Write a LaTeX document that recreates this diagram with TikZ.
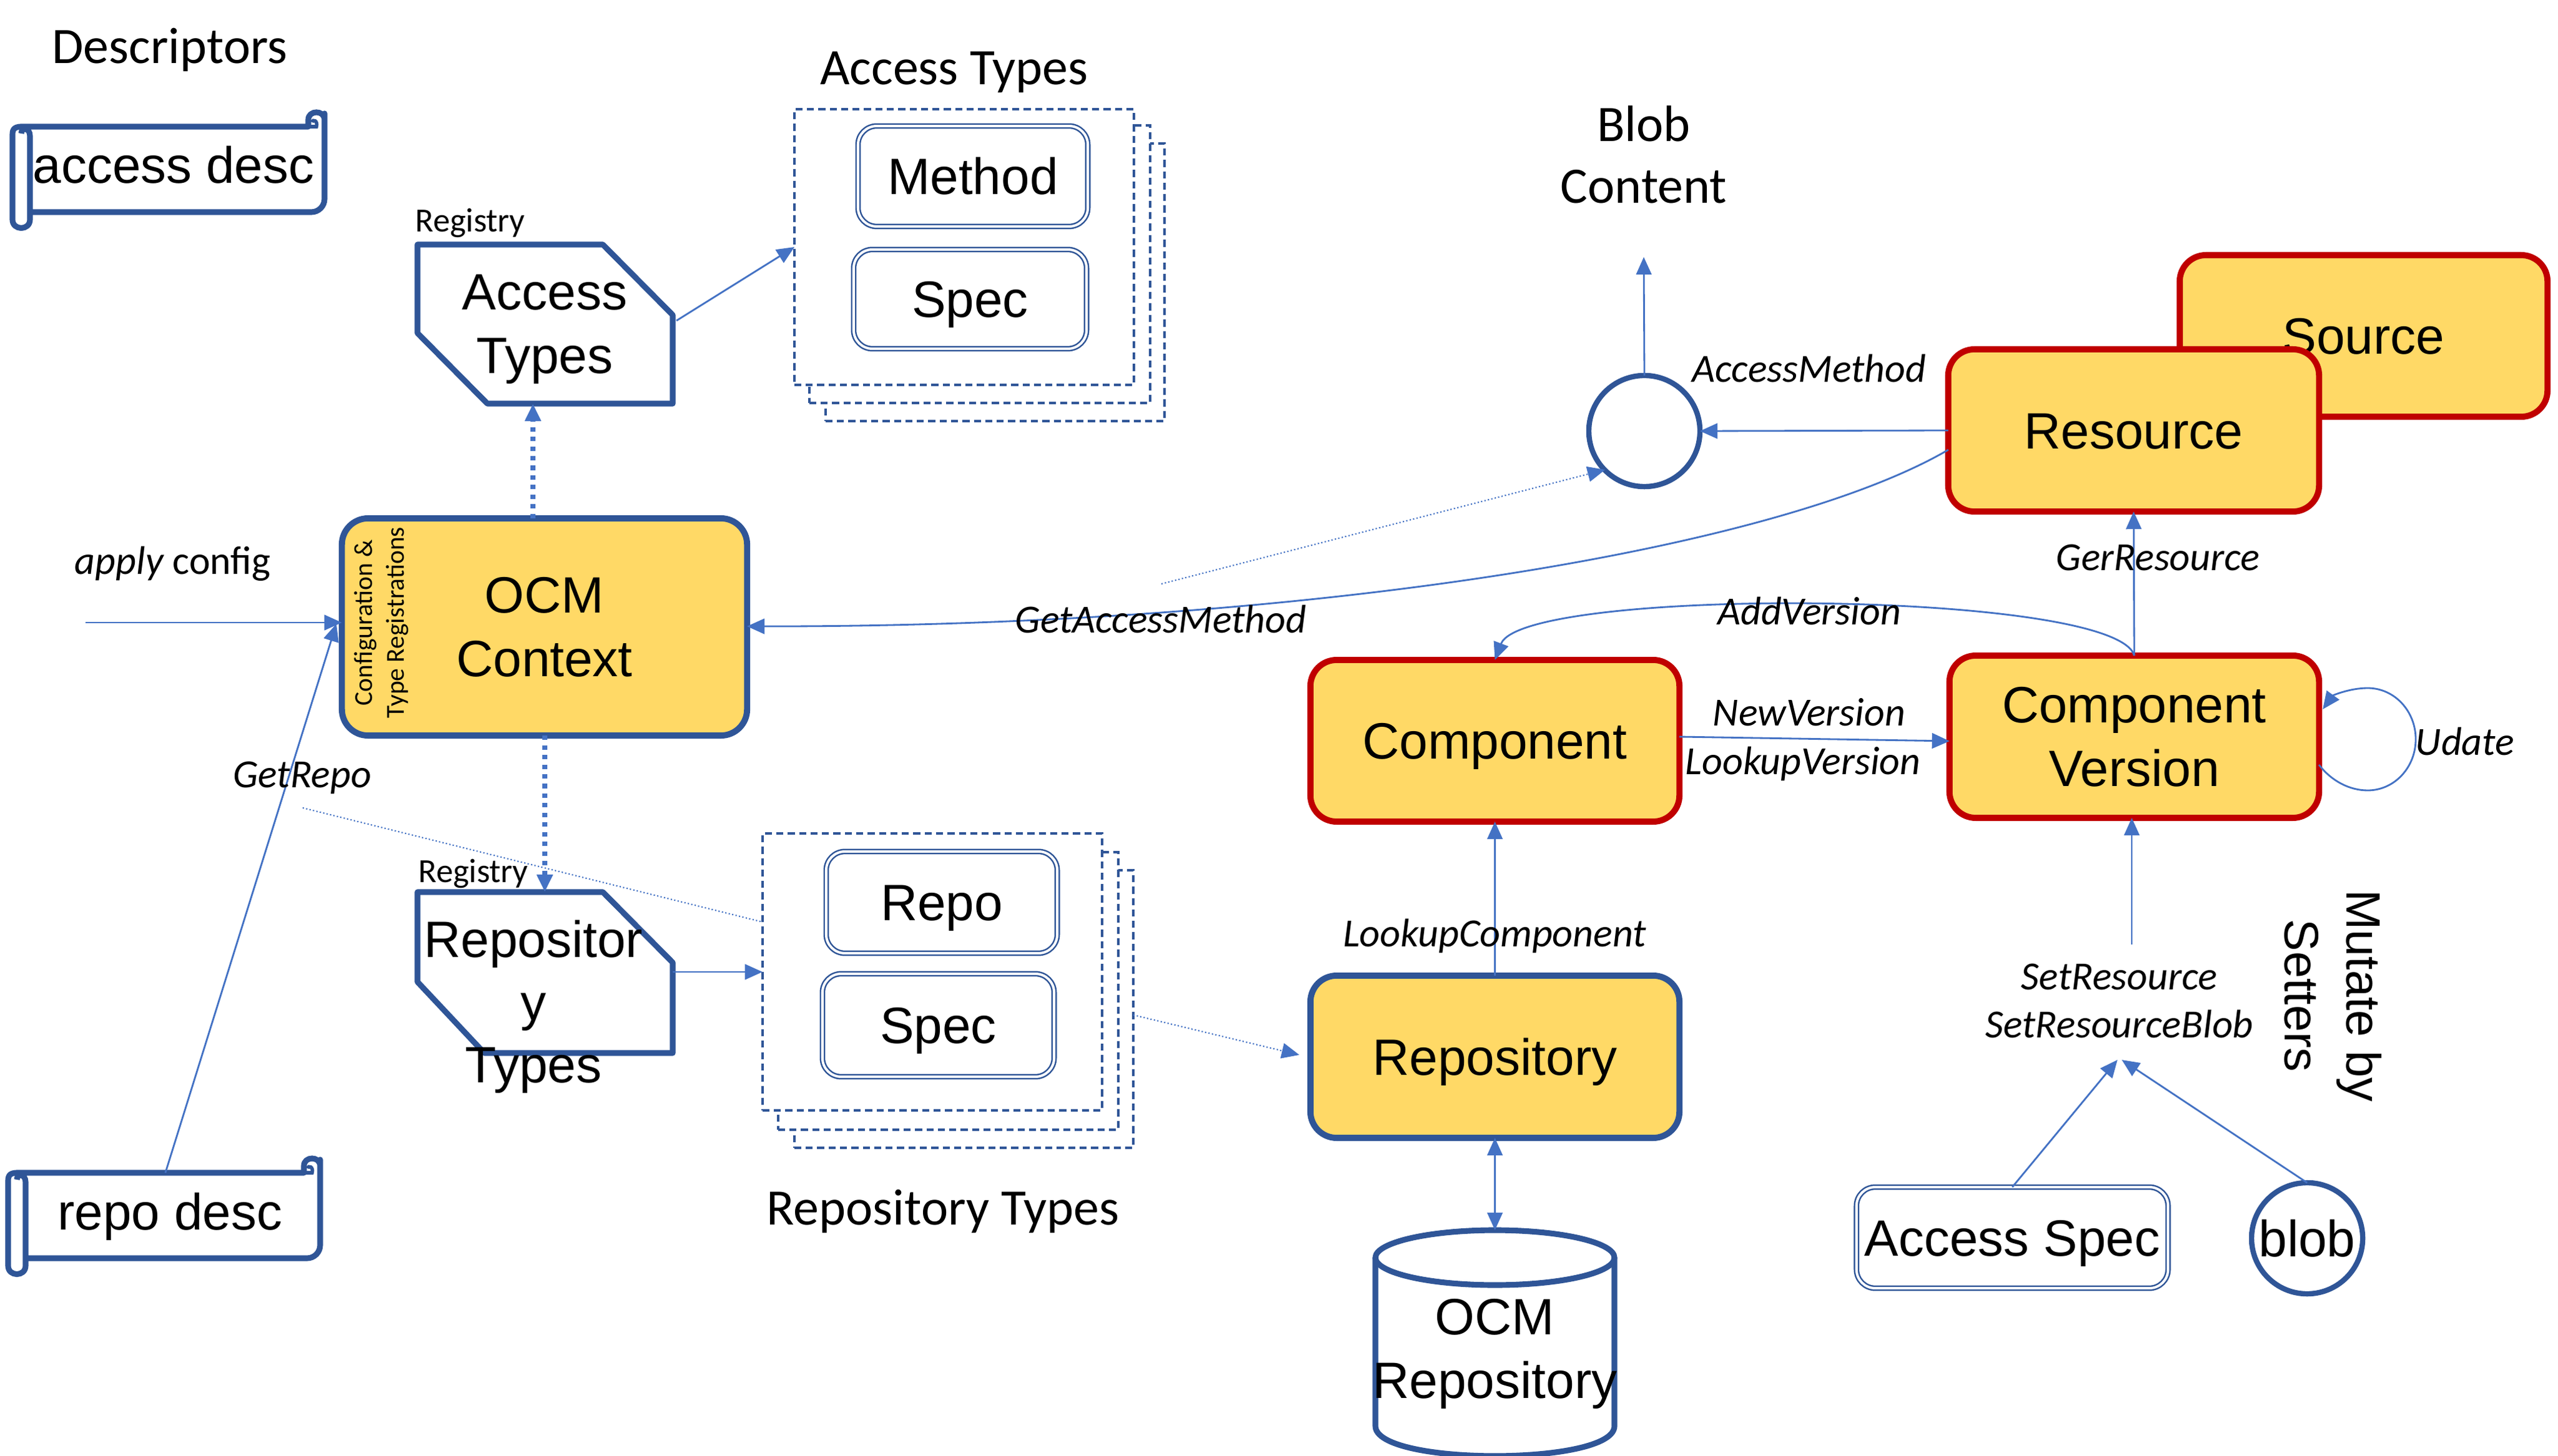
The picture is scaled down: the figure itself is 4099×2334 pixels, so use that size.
\documentclass[tikz,border=0pt]{standalone}
\usepackage{fontspec}
\setmainfont{Carlito}
\newfontfamily\arf{Liberation Sans}
\usetikzlibrary{arrows.meta,calc}
\definecolor{lineblue}{HTML}{4472C4}
\definecolor{darkblue}{HTML}{2F5597}
\definecolor{boxred}{HTML}{C00000}
\definecolor{boxgold}{HTML}{FFD966}
\newcommand{\bnode}[7]{%
  \pgfmathsetmacro\bw{(#5-#3)/100}%
  \pgfmathsetmacro\bh{(#6-#4)/100}%
  \node[#1,minimum width=\bw cm,minimum height=\bh cm] (#2) at ({(#3+#5)/2},{(#4+#6)/2}) {#7};}
\newcommand{\scrollshape}{%
  \draw[outl,fill=white,line join=round]
    (31,160) [rounded corners=6pt] -- (503,160) -- (503,23) [sharp corners] -- (503,12)
    .. controls (503,-4) and (477,-4) .. (477,12) -- (477,23) -- (18,23)
    .. controls (3,23) and (3,30) .. (3,38) -- (3,172)
    .. controls (3,190) and (31,190) .. (31,172) -- (31,38)
    .. controls (31,24) and (17,24) .. (17,34);
  \draw[outl,line width=1.6pt] (477,23) -- (490,23) .. controls (493,14) and (484,10) .. (483,16);}
\tikzset{
  x=0.01cm,y=-0.01cm,
  outl/.style={draw=darkblue,line width=2.6pt},
  maintxt/.style={font=\arf\fontsize{23.3}{29}\selectfont,align=center,text=black},
  capmid/.style={text height=16.7pt,text depth=0pt},
  gold/.style={maintxt,fill=boxgold,line width=2.8pt,rounded corners=0.42cm,inner sep=0pt,outer sep=0pt},
  goldblue/.style={gold,draw=darkblue},
  goldred/.style={gold,draw=boxred},
  plain/.style={maintxt,inner sep=0pt,outer sep=0pt},
  dbl/.style={maintxt,capmid,draw=darkblue,line width=0.7pt,double=white,double distance=1.1pt,rounded corners=0.3cm,inner sep=0pt,outer sep=0pt,fill=white},
  stackbox/.style={draw=darkblue,fill=white,line width=1.2pt,dash pattern=on 3.2pt off 2pt,inner sep=0pt,outer sep=0pt},
  title/.style={font=\fontsize{23.3}{28}\selectfont,align=center,inner sep=0pt},
  small/.style={font=\fontsize{15.4}{18}\selectfont,inner sep=0pt},
  lab/.style={font=\itshape\fontsize{18.2}{22}\selectfont,inner sep=0pt},
  conn/.style={draw=lineblue,line width=0.8pt,-{Triangle[length=8pt,width=7pt]}},
  thick dots/.style={draw=lineblue,line width=2pt,dash pattern=on 2pt off 2.4pt,-{Triangle[length=8pt,width=7pt]}},
  fine dots/.style={draw=lineblue,line width=0.6pt,densely dotted},
}
\begin{document}
\begin{tikzpicture}
\useasboundingbox (0,0) rectangle (4099,2334);
\fill[white] (0,0) rectangle (4099,2334);

% titles
\node[title] (tdesc) at (272,80) {Descriptors};
\node[title] (taccess) at (1529,116) {Access Types};
\node[title] (tblob) at (2634,248) {Blob\\Content};
\node[title] (trepo) at (1511,1942) {Repository Types};

% scrolls
\begin{scope}[shift={(17,180)}]\scrollshape\end{scope}
\bnode{plain}{accdesc}{35}{195}{521}{333}{access desc}
\begin{scope}[shift={(10,1857)}]\scrollshape\end{scope}
\bnode{plain}{repodesc}{30}{1880}{515}{2021}{repo desc}

% registry hexagons
\node[small,anchor=west] (reg1) at (665,358) {Registry};
\node[small,anchor=west] (reg2) at (670,1401) {Registry};
\draw[outl,fill=white,line join=round] (669,392) -- (966,392) -- (1078,505) -- (1078,647) -- (781,647) -- (669,534) -- cycle;
\bnode{plain}{athex}{669}{392}{1078}{647}{}
\node[maintxt,inner sep=0pt] (athextxt) at (873,528) {Access\\Types};
\draw[outl,fill=white,line join=round] (669,1430) -- (966,1430) -- (1078,1543) -- (1078,1688) -- (776,1688) -- (669,1574) -- cycle;
\bnode{plain}{rthex}{669}{1430}{1078}{1688}{}
\node[maintxt,font=\arf\fontsize{23.3}{28.5}\selectfont,inner sep=0pt] (rthextxt) at (855,1614) {Repositor\\y\\Types};

% stacks
\bnode{stackbox}{as3}{1323}{230}{1866}{675}{}
\bnode{stackbox}{as2}{1297}{201}{1843}{646}{}
\bnode{stackbox}{as1}{1273}{175}{1817}{617}{}
\bnode{dbl}{method}{1375}{202}{1743}{363}{Method}
\bnode{dbl}{aspec}{1368}{400}{1741}{559}{Spec}
\bnode{stackbox}{rs3}{1273}{1395}{1816}{1840}{}
\bnode{stackbox}{rs2}{1247}{1366}{1792}{1811}{}
\bnode{stackbox}{rs1}{1222}{1336}{1766}{1780}{}
\bnode{dbl}{repo}{1324}{1365}{1694}{1528}{Repo}
\bnode{dbl}{rspec}{1318}{1561}{1689}{1726}{Spec}

% gold boxes
\bnode{goldblue}{ocm}{548}{831}{1197}{1179}{OCM\\Context}
\node[font=\fontsize{11.8}{14.5}\selectfont,align=center,rotate=90,inner sep=0pt] (cfg) at (611,998) {Configuration \&\\Type Registrations};
\bnode{goldred,capmid}{source}{3493}{409}{4082}{668}{Source}
\bnode{goldred,capmid}{resource}{3122}{560}{3716}{820}{Resource}
\bnode{goldred,capmid}{component}{2100}{1058}{2691}{1317}{Component}
\bnode{goldred}{cv}{3124}{1051}{3716}{1311}{Component\\Version}
\bnode{goldblue,capmid}{repository}{2100}{1564}{2691}{1824}{Repository}

% cylinder
\draw[outl,fill=white] (2204,2016) -- (2204,2286) .. controls (2204,2350) and (2587,2350) .. (2587,2286) -- (2587,2016);
\draw[outl,fill=white] (2395.5,2016) ellipse [x radius=191.5,y radius=44];
\bnode{plain}{ocmrepo}{2204}{1972}{2587}{2328}{}
\node[maintxt,inner sep=0pt,font=\arf\fontsize{23.3}{29}\selectfont] (ocmrepotxt) at (2395.5,2170) {OCM\\Repository};

% small nodes
\bnode{dbl}{accspec}{2975}{1903}{3474}{2065}{Access Spec}
\node[draw=darkblue,line width=2.4pt,fill=white,circle,minimum size=1.78cm,inner sep=0pt,outer sep=0pt,maintxt] (blob) at (3697,1985) {blob};
\node[draw=darkblue,line width=2.4pt,fill=white,circle,minimum size=1.78cm,inner sep=0pt,outer sep=0pt] (am) at (2635,691) {};

% connector end points
\coordinate (apply) at (137,998);
\coordinate (upx) at (854,740);
\coordinate (downx) at (873,1300);
\coordinate (blobtop) at (2634,412);
\coordinate (ocmin) at (539,1000);
\coordinate (rdout) at (265,1880);
\coordinate (atout) at (1084,514);
\coordinate (atin) at (1273,396);
\coordinate (rtlev) at (1000,1558);
\coordinate (frepo) at (485,1295);
\coordinate (frepoend) at (1222,1478);
\coordinate (fstack) at (1816,1627);
\coordinate (frepoin) at (2082,1691);
\coordinate (fam) at (1861,936);
\coordinate (famin) at (2572,753);
\coordinate (rescurve) at (3122,721);
\coordinate (ocmright) at (1197,1004);
\coordinate (newa) at (2691,1181);
\coordinate (newb) at (3124,1188);
\coordinate (selfa) at (3716,1226);
\coordinate (selfb) at (3722,1137);
\coordinate (setfrom) at (3416,1514);
\coordinate (settip) at (3393,1699);
\coordinate (settipb) at (3400,1699);

% connectors
\draw[conn] (apply) -- (apply -| ocm.west);
\draw[conn] (rdout) -- (ocmin);
\draw[thick dots] (upx |- ocm.north) -- (upx |- athex.south);
\draw[thick dots] (downx |- ocm.south) -- (downx |- rthex.north);
\draw[conn] (atout) -- (atin);
\draw[conn] (rtlev -| rthex.east) -- (rtlev -| rs1.west);
\draw[fine dots] (frepo) -- (frepoend);
\draw[fine dots,-{Triangle[length=8pt,width=7pt]}] (fstack) -- (frepoin);
\draw[fine dots,-{Triangle[length=8pt,width=7pt]}] (fam) -- (famin);
\draw[conn] (am.north) -- (blobtop);
\draw[conn] (resource.west) -- (am.east);
\draw[conn] (rescurve) .. controls (2850,880) and (2100,1005) .. (ocmright);
\draw[conn] (cv.north) .. controls (3390,945) and (2440,940) .. (component.north);
\draw[conn] (cv.north) -- (resource.south);
\draw[conn] (newa) -- (newb);
\draw[conn] (selfa) .. controls (3736,1252) and (3765,1267) .. (3794,1267) .. controls (3837,1267) and (3871,1230) .. (3871,1185) .. controls (3871,1140) and (3837,1103) .. (3794,1103) .. controls (3765,1103) and (3738,1115) .. (selfb);
\draw[conn] (repository.north) -- (component.south);
\draw[conn,{Triangle[length=8pt,width=7pt]}-{Triangle[length=8pt,width=7pt]}] (repository.south) -- (ocmrepo.north);
\draw[conn] (setfrom) -- (setfrom |- cv.south);
\draw[conn] (accspec.north) -- (settip);
\draw[conn] (blob.north) -- (settipb);

% labels
\node[lab] (l1) at (277,904) {\textit{apply} \upshape config};
\node[lab] (l2) at (484,1247) {GetRepo};
\node[lab] (l3) at (1860,993) {GetAccessMethod};
\node[lab] (l4) at (2899,591) {AccessMethod};
\node[lab] (l5) at (3458,894) {GerResource};
\node[lab] (l6) at (2899,980) {AddVersion};
\node[lab] (l7) at (2899,1142) {NewVersion};
\node[lab] (l8) at (2889,1224) {LookupVersion};
\node[lab] (l9) at (3950,1189) {Udate};
\node[lab] (l10) at (2395,1500) {LookupComponent};
\node[lab] (l11) at (3396,1566) {SetResource};
\node[lab] (l12) at (3396,1642) {SetResourceBlob};
\node[font=\arf\fontsize{22}{27}\selectfont,rotate=-90,inner sep=0pt] (l13) at (3780,1596) {Mutate by};
\node[font=\arf\fontsize{22}{27}\selectfont,rotate=-90,inner sep=0pt] (l14) at (3688,1596) {Setters};
\end{tikzpicture}
\end{document}
